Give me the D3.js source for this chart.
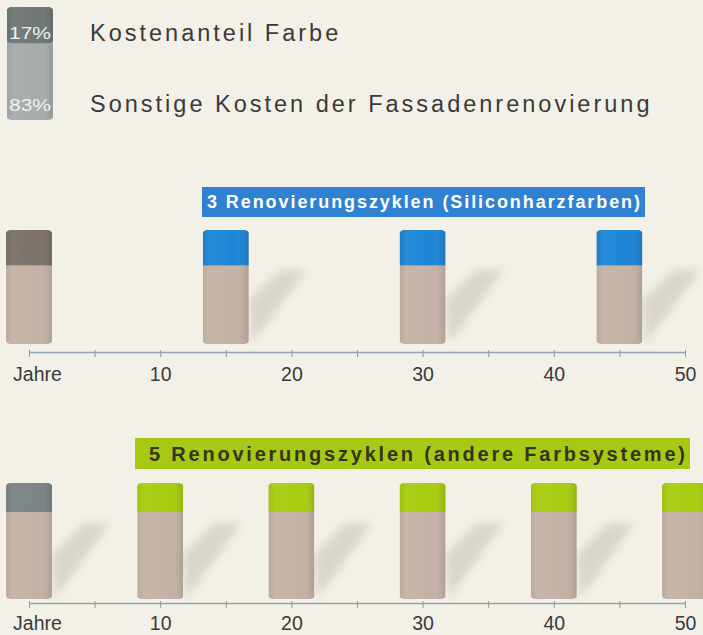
<html>
<meta charset="utf-8" />
<head>
<title>Renovierungszyklen</title>
<script src="https://cdn.jsdelivr.net/npm/d3@7/dist/d3.min.js"></script>
<style>
  body { margin: 0; background: #f3f0e7; }
  svg { display: block; font-family: "Liberation Sans", Arial, sans-serif; }
</style>
<script>
// legend
const legendLabels = ["Kostenanteil Farbe", "Sonstige Kosten der Fassadenrenovierung"];
const legendShares = [17, 83];

// years in which a renovation happens
const yearsSilicon = [0, 15, 30, 45];
const yearsOther = [0, 10, 20, 30, 40, 50];

// share of the cylinder drawn in paint colour (as in the picture)
const paintPartSilicon = 31;
const paintPartOther = 25;

const tickYears = [0, 5, 10, 15, 20, 25, 30, 35, 40, 45, 50];
const titles = ["3 Renovierungszyklen (Siliconharzfarben)", "5 Renovierungszyklen (andere Farbsysteme)"];

window.onload = function() {
  const svg = d3.select("svg");
  const defs = svg.append("defs");

  // blur for the shadows
  defs.append("filter").attr("id", "blur")
    .attr("x", "-40%").attr("y", "-40%").attr("width", "180%").attr("height", "180%")
    .append("feGaussianBlur").attr("stdDeviation", 4);

  // round shading of the cylinders
  const grad = defs.append("linearGradient").attr("id", "shade");
  grad.append("stop").attr("offset", "0%").attr("stop-color", "#000").attr("stop-opacity", 0.05);
  grad.append("stop").attr("offset", "15%").attr("stop-color", "#fff").attr("stop-opacity", 0.05);
  grad.append("stop").attr("offset", "70%").attr("stop-color", "#fff").attr("stop-opacity", 0);
  grad.append("stop").attr("offset", "100%").attr("stop-color", "#000").attr("stop-opacity", 0.12);

  const x = d3.scaleLinear().domain([0, 50]).range([29, 685]);
  const barW = x(3.5) - x(0);

  // legend cylinder
  const legY = d3.scaleLinear().domain([0, 100]).range([120, 7]);
  const leg = svg.append("g");
  leg.append("rect").attr("x", 7).attr("width", barW).attr("y", legY(100)).attr("height", legY(0) - legY(100))
    .attr("rx", 5).attr("ry", 3).attr("fill", "#a5acab");
  leg.append("rect").attr("x", 7).attr("width", barW).attr("y", legY(100)).attr("height", legY(100 - 32) - legY(100))
    .attr("rx", 5).attr("ry", 3).attr("fill", "#6e7775");
  leg.append("rect").attr("x", 7).attr("width", barW).attr("y", legY(100)).attr("height", legY(0) - legY(100))
    .attr("rx", 5).attr("ry", 3).attr("fill", "url(#shade)");
  leg.selectAll("text.pct").data(legendShares).enter().append("text")
    .attr("class", "pct")
    .attr("x", 9).attr("y", (d, i) => i === 0 ? 39 : 111)
    .attr("textLength", 42).attr("lengthAdjust", "spacingAndGlyphs")
    .attr("font-size", 17).attr("fill", "#eef1f0")
    .text(d => d + "%");
  leg.selectAll("text.lab").data(legendLabels).enter().append("text")
    .attr("class", "lab")
    .attr("x", 90).attr("y", (d, i) => i === 0 ? 41 : 112)
    .attr("font-size", 23.5).attr("letter-spacing", 3).attr("fill", "#3a3a38")
    .text(d => d);

  const panels = [
    { years: yearsSilicon, paint: paintPartSilicon, firstColor: "#7b7169", color: "#1d85d5",
      top: 230, bottom: 344, axisY: 352, title: titles[0], boxX: 202, boxY: 187, boxW: 443, boxH: 30,
      boxColor: "#2f81d1", textColor: "#ffffff", fontSize: 18, textX: 207, textW: 433,
      shadowFirst: false, pad: 10 },
    { years: yearsOther, paint: paintPartOther, firstColor: "#7a8385", color: "#a8cc0f",
      top: 483, bottom: 599, axisY: 603, title: titles[1], boxX: 135, boxY: 438, boxW: 555, boxH: 31,
      boxColor: "#a8c914", textColor: "#33361c", fontSize: 20, textX: 149, textW: 536,
      shadowFirst: true, pad: 8 }
  ];

  panels.forEach((p, pi) => {
    const g = svg.append("g");
    const y = d3.scaleLinear().domain([0, 100]).range([p.bottom, p.top]);

    // title box
    g.append("rect").attr("x", p.boxX).attr("y", p.boxY).attr("width", p.boxW).attr("height", p.boxH)
      .attr("fill", p.boxColor);
    g.append("text").attr("x", p.textX).attr("y", p.boxY + p.boxH / 2 + p.fontSize * 0.36)
      .attr("font-size", p.fontSize).attr("font-weight", "bold").attr("fill", p.textColor)
      .attr("textLength", p.textW).attr("lengthAdjust", "spacing")
      .text(p.title);

    // shadows
    g.selectAll("polygon.shadow").data(p.years.filter((d, i) => i > 0 || p.shadowFirst)).enter()
      .append("polygon").attr("class", "shadow")
      .attr("points", d => {
        const xr = x(d) + barW / 2;
        return [[xr, y(0) - 44], [xr + 31, y(100) + 40], [xr + 58, y(100) + 40], [xr + 3, y(0)]]
          .map(q => q.join(",")).join(" ");
      })
      .attr("fill", "#c4c0b8").attr("opacity", 0.55).attr("filter", "url(#blur)");

    // cylinders
    const bars = g.selectAll("g.bar").data(p.years).enter().append("g").attr("class", "bar");
    bars.each(function(d, i) {
      const b = d3.select(this);
      const cid = "clip" + pi + "_" + i;
      defs.append("clipPath").attr("id", cid).append("rect")
        .attr("x", x(d) - barW / 2).attr("y", y(100)).attr("width", barW).attr("height", y(0) - y(100))
        .attr("rx", 5).attr("ry", 3);
      const c = b.append("g").attr("clip-path", "url(#" + cid + ")");
      c.append("rect").attr("x", x(d) - barW / 2).attr("y", y(100)).attr("width", barW)
        .attr("height", y(0) - y(100)).attr("fill", "#c4b2a6");
      c.append("rect").attr("x", x(d) - barW / 2).attr("y", y(100)).attr("width", barW)
        .attr("height", y(100 - p.paint) - y(100)).attr("fill", i === 0 ? p.firstColor : p.color);
      c.append("rect").attr("x", x(d) - barW / 2).attr("y", y(100)).attr("width", barW)
        .attr("height", y(0) - y(100)).attr("fill", "url(#shade)");
    });

    // axis
    const axis = d3.axisBottom(x).tickValues(tickYears).tickSize(5).tickSizeOuter(0).tickPadding(p.pad)
      .tickFormat(d => d === 0 ? "Jahre" : (d % 10 === 0 ? d : ""));
    const ag = g.append("g").attr("transform", "translate(0," + p.axisY + ")").call(axis);
    ag.select("path.domain").attr("stroke", "#97a4ad").attr("stroke-width", 1.5);
    ag.selectAll(".tick line").attr("stroke", "#8d9aa3").attr("y1", -2);
    ag.selectAll(".tick text").attr("font-size", 19.5).attr("fill", "#3a3a38")
      .attr("font-family", "'Liberation Sans', Arial, sans-serif")
      .attr("dx", d => d === 0 ? 8 : 0);
  });
}
</script>
</head>
<body>
<svg width="703" height="635"></svg>
</body>
</html>
